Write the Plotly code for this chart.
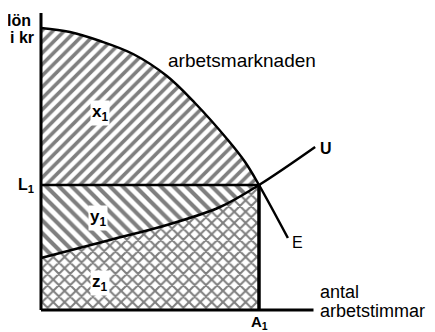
import plotly.graph_objects as go

# curves (x: hours, y: wage)
demand_x = [0, 1.06, 2.17, 3.38, 4.62, 5.65, 6.86, 7.49, 8.0, 9.06]
demand_y = [11.28, 11.12, 10.76, 10.24, 9.36, 8.28, 6.8, 5.92, 5.0, 2.88]

u_x = [0, 2.53, 4.62, 6.57, 8.0, 10.06]
u_y = [2.08, 2.8, 3.4, 4.12, 5.0, 6.52]

L1 = 5.0
A1 = 8.0
x_axis_end = 10.0
y_axis_top = 11.88

FONT = "Liberation Sans, Arial, sans-serif"

# parts of the curves left of A1, for the shaded areas
d_fx = [x for x in demand_x if x <= A1]
d_fy = demand_y[:len(d_fx)]
u_fx = [x for x in u_x if x <= A1]
u_fy = u_y[:len(u_fx)]

fig = go.Figure()

# z area: under U
fig.add_trace(go.Scatter(
    x=u_fx, y=u_fy, mode="lines", line=dict(width=0, shape="spline"),
    fill="tozeroy", fillcolor="white",
    fillpattern=dict(shape="x", fgcolor="black", bgcolor="white", size=8, solidity=0.45),
    hoverinfo="skip"))

# y area: between U and L1
fig.add_trace(go.Scatter(
    x=[0, A1], y=[L1, L1], mode="lines", line=dict(width=0),
    fill="tonexty", fillcolor="white",
    fillpattern=dict(shape="\\", fgcolor="black", bgcolor="white", size=9, solidity=0.45),
    hoverinfo="skip"))

# x area: between L1 and the demand curve
fig.add_trace(go.Scatter(
    x=d_fx, y=d_fy, mode="lines", line=dict(width=0, shape="spline"),
    fill="tonexty", fillcolor="white",
    fillpattern=dict(shape="/", fgcolor="black", bgcolor="white", size=8, solidity=0.45),
    hoverinfo="skip"))

# lines on top
fig.add_trace(go.Scatter(x=demand_x, y=demand_y, mode="lines",
                         line=dict(color="black", width=2.5, shape="spline")))
fig.add_trace(go.Scatter(x=u_x, y=u_y, mode="lines",
                         line=dict(color="black", width=2.5, shape="spline")))
fig.add_trace(go.Scatter(x=[0, A1], y=[L1, L1], mode="lines",
                         line=dict(color="black", width=2.5)))
fig.add_trace(go.Scatter(x=[A1, A1], y=[0, L1], mode="lines",
                         line=dict(color="black", width=3.5)))

# axes
fig.add_shape(type="line", x0=0, x1=0, y0=0, y1=y_axis_top,
              line=dict(color="black", width=3))
fig.add_shape(type="line", x0=0, x1=x_axis_end, y0=0, y1=0,
              line=dict(color="black", width=3))

def label(text, x, y, size=16, xanchor="center", bg=None):
    fig.add_annotation(x=x, y=y, text=text, showarrow=False, xanchor=xanchor,
                       yanchor="middle", font=dict(family=FONT, size=size, color="black"),
                       bgcolor=bg, borderpad=1)

label("<b>lön</b>", -0.3, 11.6, size=16, xanchor="right")
label("<b>i kr</b>", -0.2, 10.92, size=16, xanchor="right")
label("<b>L<sub>1</sub></b>", -0.2, L1, size=16, xanchor="right")
label("<b>A<sub>1</sub></b>", A1, -0.48, size=15)
label("<b>U</b>", 10.17, 6.48, size=16, xanchor="left")
label("E", 9.12, 2.72, size=16, xanchor="left")
label("arbetsmarknaden", 4.58, 10.0, size=19, xanchor="left")
label("antal", 10.15, 0.72, size=18, xanchor="left")
label("arbetstimmar", 10.15, -0.02, size=18, xanchor="left")
label("<b>x<sub>1</sub></b>", 2.17, 7.88, size=17, bg="white")
label("<b>y<sub>1</sub></b>", 2.1, 3.68, size=17, bg="white")
label("<b>z<sub>1</sub></b>", 2.17, 1.08, size=17, bg="white")

# page body has an 8px margin, so the figure is 8px smaller and the
# x=0 / y=0 point sits at 33 / 302 figure pixels (27.25 px per x unit, 25 per y unit)
fig.update_xaxes(range=[-33 / 27.25, 394 / 27.25], visible=False)
fig.update_yaxes(range=[-22 / 25, 302 / 25], visible=False)
fig.update_layout(
    width=427, height=324,
    margin=dict(l=0, r=0, t=0, b=0),
    showlegend=False,
    plot_bgcolor="white", paper_bgcolor="white",
)

fig.write_html("out.html")
